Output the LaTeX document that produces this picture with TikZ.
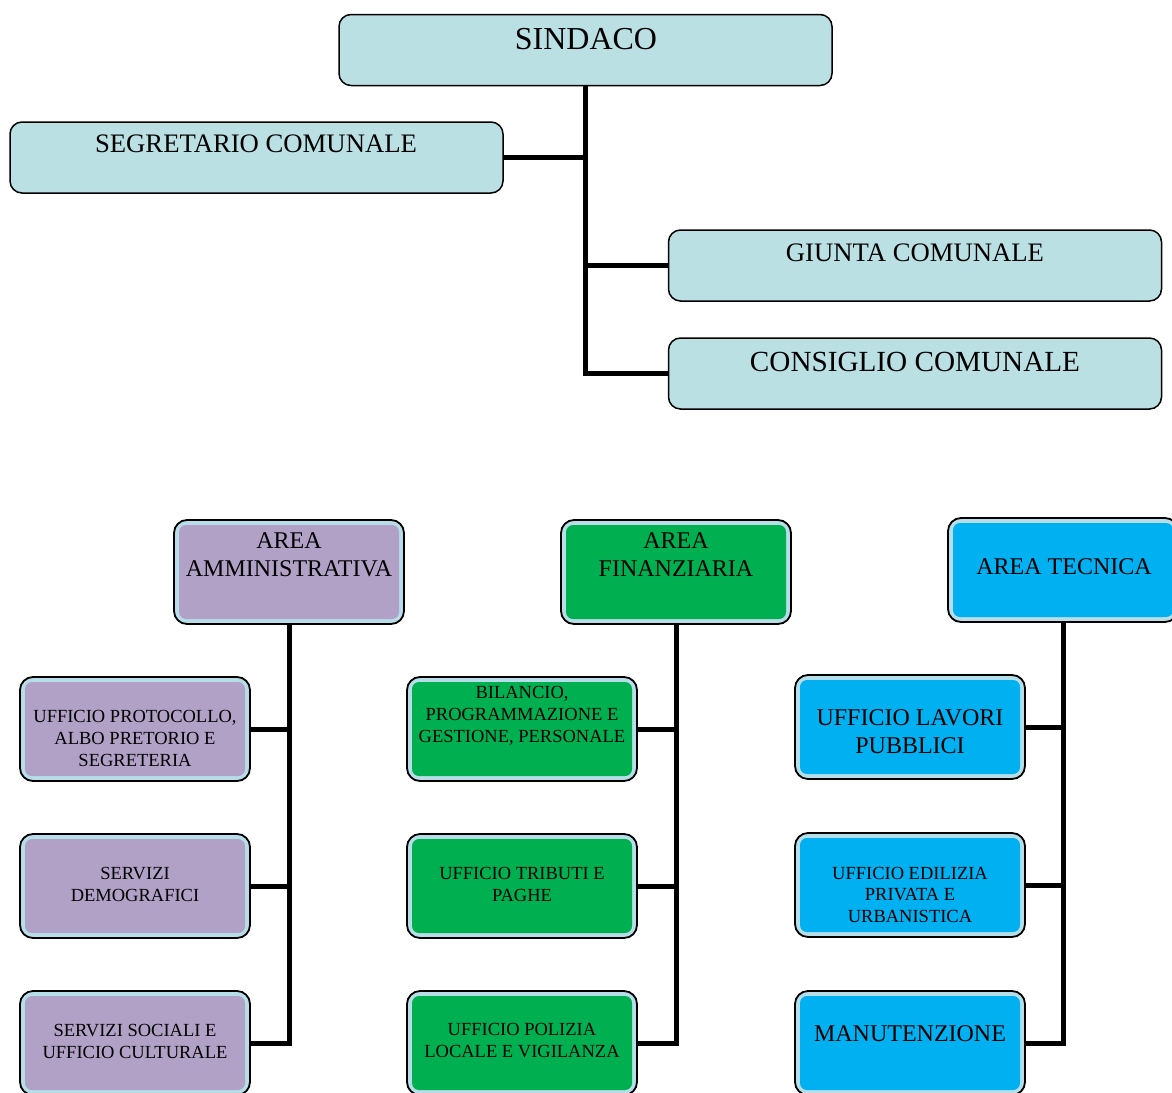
\documentclass[tikz,border=0pt]{standalone}
\usepackage{fontspec}
\setmainfont{Liberation Serif}
\definecolor{topfill}{HTML}{BBE0E3}
\definecolor{band}{HTML}{B7DEE8}
\definecolor{purp}{HTML}{B2A1C7}
\definecolor{grn}{HTML}{00B050}
\definecolor{blu}{HTML}{00B0F0}
\tikzset{
  topbox/.style={draw=black, line width=1.5pt, fill=topfill, rounded corners=12pt, inner sep=0pt,
    minimum width=493pt, minimum height=71pt},
  areabox/.style={draw=black, line width=1.8pt, fill=band, rounded corners=13pt, inner sep=0pt,
    minimum width=230pt, minimum height=104pt,
    path picture={\fill[#1, rounded corners=7pt]
      ([shift={(5pt,5pt)}]path picture bounding box.south west) rectangle
      ([shift={(-5pt,-5pt)}]path picture bounding box.north east);}},
  conn/.style={line width=5pt, draw=black, line join=miter},
  txt/.style={inner sep=0pt, align=center, text=black},
}
\newcommand{\fs}[2]{\fontsize{#1pt}{#2pt}\selectfont}
\begin{document}
\begin{tikzpicture}[x=1pt,y=-1pt]
\useasboundingbox (0,0) rectangle (1172,1092);
\clip (0,0) rectangle (1172,1092);
\fill[white] (0,0) rectangle (1172,1092);

% top boxes
\node[topbox] (sindaco) at (585.5,50) {};
\node[topbox] (segr) at (256.5,157.5) {};
\node[topbox] (giunta) at (915,265.5) {};
\node[topbox] (cons) at (915,373.5) {};
\node[txt, font=\fs{32}{36}] (tsind) at (586,39.5) {SINDACO};
\node[txt, font=\fs{26.7}{30}] (tsegr) at (256,143.5) {SEGRETARIO COMUNALE};
\node[txt, font=\fs{26.7}{30}] (tgiun) at (915,252.5) {GIUNTA COMUNALE};
\node[txt, font=\fs{29.2}{32}] (tcons) at (915,361.5) {CONSIGLIO COMUNALE};

% top connectors
\draw[conn] (sindaco.south) -- (sindaco.south |- cons.west) -- (cons.west);
\draw[conn] (segr.east) -- (segr.east -| sindaco.south);
\draw[conn] (giunta.west) -- (giunta.west -| sindaco.south);

% area boxes
\node[areabox=purp] (amm) at (289,572) {};
\node[areabox=grn] (fin) at (676,572) {};
\node[areabox=blu] (tec) at (1063,570) {};
\node[txt, font=\fs{24}{28}] (tamm) at (289,555) {AREA\\AMMINISTRATIVA};
\node[txt, font=\fs{24}{28}] (tfin) at (676,555) {AREA\\FINANZIARIA};
\node[txt, font=\fs{24}{28}] (ttec) at (1064,567) {AREA TECNICA};

% sub boxes left
\node[areabox=purp] (a1) at (135,729) {};
\node[areabox=purp] (a2) at (135,886) {};
\node[areabox=purp] (a3) at (135,1043) {};
\node[txt, font=\fs{18.5}{22}] (ta1) at (135,738) {UFFICIO PROTOCOLLO,\\ALBO PRETORIO E\\SEGRETERIA};
\node[txt, font=\fs{18.5}{22}] (ta2) at (135,884) {SERVIZI\\DEMOGRAFICI};
\node[txt, font=\fs{18.5}{22}] (ta3) at (135,1041) {SERVIZI SOCIALI E\\UFFICIO CULTURALE};

% sub boxes middle
\node[areabox=grn] (f1) at (522,729) {};
\node[areabox=grn] (f2) at (522,886) {};
\node[areabox=grn] (f3) at (522,1043) {};
\node[txt, font=\fs{18.5}{22}] (tf1) at (522,716) {BILANCIO,\\PROGRAMMAZIONE E\\GESTIONE, PERSONALE};
\node[txt, font=\fs{18.5}{22}] (tf2) at (522,884) {UFFICIO TRIBUTI E\\PAGHE};
\node[txt, font=\fs{18.5}{22}] (tf3) at (522,1041) {UFFICIO POLIZIA\\LOCALE E VIGILANZA};

% sub boxes right
\node[areabox=blu] (t1) at (910,727) {};
\node[areabox=blu] (t2) at (910,885) {};
\node[areabox=blu] (t3) at (910,1043) {};
\node[txt, font=\fs{24}{28}] (tt1) at (910,732) {UFFICIO LAVORI\\PUBBLICI};
\node[txt, font=\fs{18.5}{21.5}] (tt2) at (910,894.5) {UFFICIO EDILIZIA\\PRIVATA E\\URBANISTICA};
\node[txt, font=\fs{24}{28}] (tt3) at (910,1034) {MANUTENZIONE};

% bottom connectors
\draw[conn] (amm.south) -- (amm.south |- a3.east) -- (a3.east);
\draw[conn] (a1.east) -- (a1.east -| amm.south);
\draw[conn] (a2.east) -- (a2.east -| amm.south);
\draw[conn] (fin.south) -- (fin.south |- f3.east) -- (f3.east);
\draw[conn] (f1.east) -- (f1.east -| fin.south);
\draw[conn] (f2.east) -- (f2.east -| fin.south);
\draw[conn] (tec.south) -- (tec.south |- t3.east) -- (t3.east);
\draw[conn] (t1.east) -- (t1.east -| tec.south);
\draw[conn] (t2.east) -- (t2.east -| tec.south);
\end{tikzpicture}
\end{document}
